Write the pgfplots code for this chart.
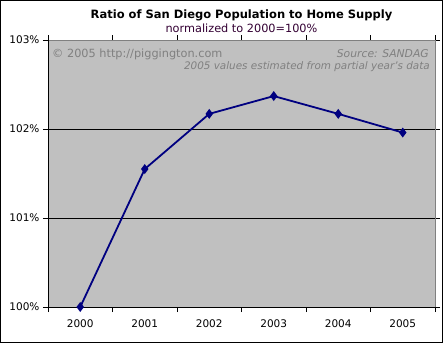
\documentclass[border=0pt]{standalone}
\usepackage{pgfplots}
\pgfplotsset{compat=1.18}
\usepackage{fontspec}
\setmainfont{DejaVu Sans}
\definecolor{plotgray}{HTML}{C0C0C0}
\definecolor{navyline}{HTML}{000080}
\definecolor{txtgray}{HTML}{808080}
\definecolor{subcol}{HTML}{330033}
\begin{document}
\begin{tikzpicture}[x=1bp,y=1bp]
\fontsize{10bp}{12bp}\selectfont
\draw[black, line width=1bp] (-47.5bp,-35.5bp) rectangle (394.5bp,306.5bp);
\begin{axis}[
  at={(0,0)}, anchor=south west,
  scale only axis, width=387bp, height=267bp,
  xmin=-0.5, xmax=5.5, ymin=100, ymax=103,
  axis background/.style={fill=plotgray},
  axis line style={draw=none},
  xtick={0,1,2,3,4,5},
  xticklabels={2000,2001,2002,2003,2004,2005},
  major x tick style={draw=none},
  minor xtick={-0.5,0.5,1.5,2.5,3.5,4.5,5.5},
  minor x tick style={black, line width=0.8bp},
  ytick={100,101,102,103},
  yticklabels={100\%,101\%,102\%,103\%},
  y tick style={black, line width=0.8bp},
  tick align=outside,
  major tick length=5bp, minor tick length=5bp,
  ymajorgrids, grid style={black, line width=0.8bp},
  tick label style={font=\fontsize{10.5bp}{12bp}\selectfont},
  xticklabel style={yshift=-4bp},
  /pgf/number format/assume math mode=true,
  clip=false,
]
\addplot[navyline, line width=1.8bp, mark=diamond*, mark size=3.5bp, mark options={fill=navyline}]
  coordinates {(0,100) (1,101.55) (2,102.17) (3,102.37) (4,102.17) (5,101.96)};
\draw[txtgray, line width=0.8bp] (rel axis cs:0,1) -- (rel axis cs:1,1) -- (rel axis cs:1,0);
\draw[black, line width=0.8bp] (rel axis cs:0,1) -- (rel axis cs:0,0) -- (rel axis cs:1,0);
\node[anchor=base west, text=txtgray, inner sep=0pt, font=\fontsize{11.3bp}{13bp}\selectfont] at ([xshift=4bp,yshift=-17bp]rel axis cs:0,1) {© 2005 http://piggington.com};
\node[anchor=base east, text=txtgray, inner sep=0pt, font=\fontsize{10.8bp}{13bp}\selectfont\itshape] at ([xshift=-6bp,yshift=-17bp]rel axis cs:1,1) {Source: SANDAG};
\node[anchor=base east, text=txtgray, inner sep=0pt, font=\fontsize{10.4bp}{13bp}\selectfont\itshape] at ([xshift=-5bp,yshift=-29bp]rel axis cs:1,1) {2005 values estimated from partial year's data};
\node[anchor=base, inner sep=0pt, font=\fontsize{11.5bp}{13bp}\selectfont\bfseries] at ([yshift=22bp]rel axis cs:0.5,1) {Ratio of San Diego Population to Home Supply};
\node[anchor=base, inner sep=0pt, text=subcol, font=\fontsize{11.3bp}{13bp}\selectfont] at ([yshift=8bp]rel axis cs:0.5,1) {normalized to 2000=100\%};
\end{axis}
\end{tikzpicture}
\end{document}
